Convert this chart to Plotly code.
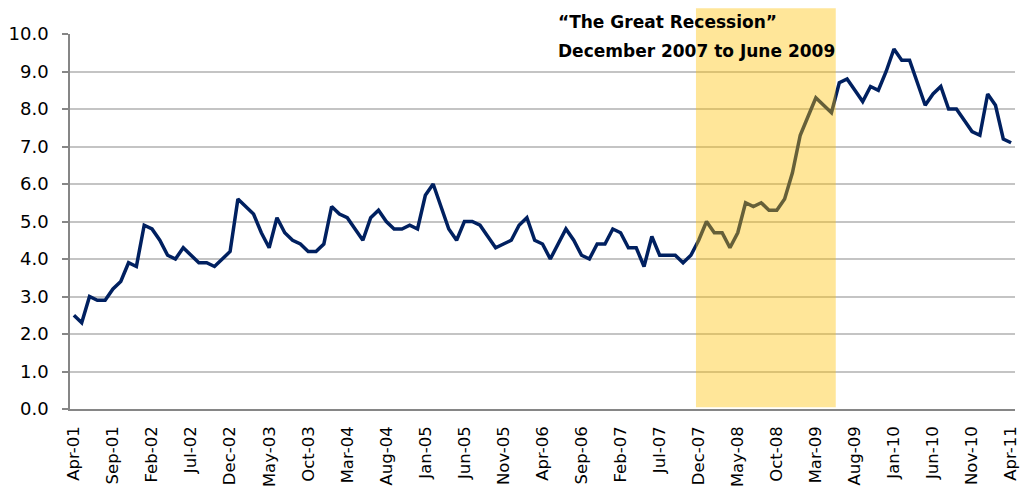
import pandas as pd
import plotly.graph_objects as go

# Monthly unemployment rate (%), April 2001 through April 2011
months = pd.date_range("2001-04-01", periods=121, freq="MS").strftime("%b-%y").tolist()
rate = [
    2.5, 2.3, 3.0, 2.9, 2.9, 3.2, 3.4, 3.9, 3.8, 4.9,
    4.8, 4.5, 4.1, 4.0, 4.3, 4.1, 3.9, 3.9, 3.8, 4.0,
    4.2, 5.6, 5.4, 5.2, 4.7, 4.3, 5.1, 4.7, 4.5, 4.4,
    4.2, 4.2, 4.4, 5.4, 5.2, 5.1, 4.8, 4.5, 5.1, 5.3,
    5.0, 4.8, 4.8, 4.9, 4.8, 5.7, 6.0, 5.4, 4.8, 4.5,
    5.0, 5.0, 4.9, 4.6, 4.3, 4.4, 4.5, 4.9, 5.1, 4.5,
    4.4, 4.0, 4.4, 4.8, 4.5, 4.1, 4.0, 4.4, 4.4, 4.8,
    4.7, 4.3, 4.3, 3.8, 4.6, 4.1, 4.1, 4.1, 3.9, 4.1,
    4.5, 5.0, 4.7, 4.7, 4.3, 4.7, 5.5, 5.4, 5.5, 5.3,
    5.3, 5.6, 6.3, 7.3, 7.8, 8.3, 8.1, 7.9, 8.7, 8.8,
    8.5, 8.2, 8.6, 8.5, 9.0, 9.6, 9.3, 9.3, 8.7, 8.1,
    8.4, 8.6, 8.0, 8.0, 7.7, 7.4, 7.3, 8.4, 8.1, 7.2,
    7.1,
]
label_step = 5
tick_idx = list(range(0, len(months), label_step))
tick_labels = [months[i] for i in tick_idx]
y_ticks = [i * 1.0 for i in range(11)]

recession_start, recession_end = "Dec-07", "Jun-09"
recession_title = "\u201cThe Great Recession\u201d"
recession_span = "December 2007 to June 2009"

FONT = "DejaVu Sans"
AXIS = "#868686"
GRID = "#c4c4c4"
NAVY = "#002060"

x = list(range(len(months)))

fig = go.Figure()
fig.add_trace(go.Scatter(
    x=x, y=rate, mode="lines",
    line=dict(color=NAVY, width=3.5),
    hoverinfo="skip", showlegend=False,
))

# recession band, translucent and drawn over the series
fig.add_shape(
    type="rect", layer="above",
    xref="x", yref="paper",
    x0=months.index(recession_start) - 0.35,
    x1=months.index(recession_end) - 0.45,
    y0=0.005, y1=1.069,
    fillcolor="#FFC000", opacity=0.4, line=dict(width=0),
)

fig.add_annotation(
    xref="paper", yref="paper", x=0.514, y=1.031,
    xanchor="left", yanchor="middle", showarrow=False,
    text=f"<b>{recession_title}</b>",
    font=dict(family=FONT, size=17, color="#000000"),
)
fig.add_annotation(
    xref="paper", yref="paper", x=0.514, y=0.956,
    xanchor="left", yanchor="middle", showarrow=False,
    text=f"<b>{recession_span}</b>",
    font=dict(family=FONT, size=17, color="#000000"),
)

fig.update_layout(
    width=1021, height=491,
    margin=dict(l=70, r=6, t=34, b=82),
    paper_bgcolor="white", plot_bgcolor="white",
    font=dict(family=FONT, size=17, color="#000000"),
    xaxis=dict(
        range=[-0.5, len(months) - 0.5], automargin=False,
        tickmode="array", tickvals=tick_idx, ticktext=tick_labels,
        tickangle=-90, ticks="", ticklabelstandoff=9,
        showgrid=False, zeroline=False,
        showline=True, linecolor=AXIS, linewidth=1.5,
        tickfont=dict(family=FONT, size=16.5, color="#000000"),
    ),
    # tick marks sit on the category boundaries
    xaxis2=dict(
        overlaying="x", anchor="y", side="bottom", automargin=False,
        range=[-0.5, len(months) - 0.5],
        tickmode="array", tickvals=[i - 0.5 for i in tick_idx],
        ticks="outside", ticklen=5, tickwidth=1.5, tickcolor=AXIS,
        showticklabels=False, showgrid=False, zeroline=False, showline=False,
    ),
    yaxis=dict(
        range=[0, 10], automargin=False,
        tickmode="array", tickvals=y_ticks, tickformat=".1f",
        ticks="outside", ticklen=6, tickwidth=1.5, tickcolor=AXIS,
        ticklabelstandoff=10,
        showgrid=True, gridcolor=GRID, gridwidth=1.5,
        zeroline=False, showline=True, linecolor=AXIS, linewidth=1.5,
        tickfont=dict(family=FONT, size=18, color="#000000"),
    ),
)

fig.write_html("out.html")
